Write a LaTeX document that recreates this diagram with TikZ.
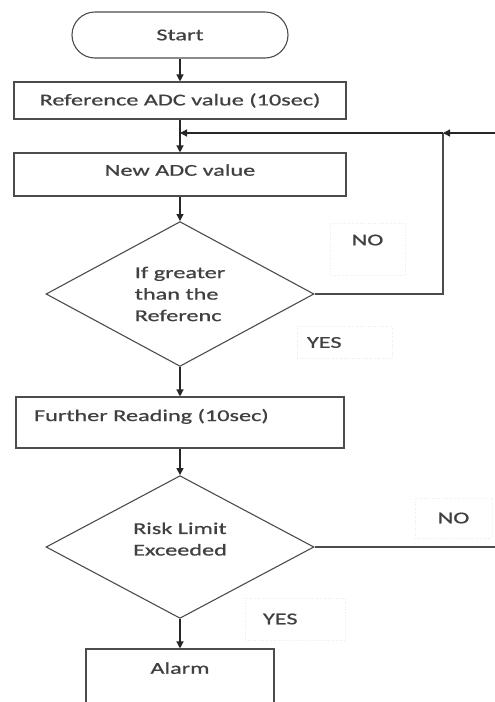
\documentclass[tikz,border=0pt]{standalone}
\usepackage{fontspec}
\setmainfont[FakeStretch=1.47, FakeBold=0.8]{Carlito}
\usetikzlibrary{shapes.geometric,arrows.meta}

\begin{document}
\begin{tikzpicture}[x=1pt, y=-1pt,
    every node/.style={font=\fontsize{16.5}{21.5}\selectfont, text=black!75},
    box/.style={draw=black!70, line width=1.1pt, inner sep=0pt},
    startbox/.style={box, rounded corners=23pt, minimum width=216pt, minimum height=46pt},
    decision/.style={draw=black!70, line width=1.1pt, diamond, inner sep=0pt, align=left,
        minimum width=268pt, minimum height=142pt},
    tag/.style={draw=black!8, dotted, line width=0.6pt, inner sep=0pt},
    flow/.style={draw=black!85, line width=1.3pt, -{Triangle[length=7pt, width=7pt]}},
    line/.style={draw=black!70, line width=1.1pt}]
            \useasboundingbox (0, 0) rectangle (495, 702);
            \clip (0, 0) rectangle (495, 702);

            \node[startbox] (start) at (180, 35) {Start};
            \node[box, minimum width=332pt, minimum height=37pt] (ref) at (180, 100.5) {Reference ADC value (10sec)};
            \node[box, minimum width=332pt, minimum height=43pt, text depth=9pt] (new) at (180, 174.5) {New ADC value};
            \node[decision] (cmp) at (180, 294) {If greater\\than the\\Referenc};
            \node[box, minimum height=51pt, text width=292pt, inner xsep=18pt, align=left, text depth=15pt] (further) at (180, 422.5) {Further Reading (10sec)};
            \node[decision, text depth=16pt] (risk) at (180, 547) {Risk Limit\\Exceeded};
            \node[box, minimum width=188pt, minimum height=70pt, text depth=32pt] (alarm) at (180, 684) {Alarm};

            \node[tag, minimum width=75pt, minimum height=52pt, text depth=18pt] (no1) at (367.5, 249) {NO};
            \node[tag, text width=75pt, inner xsep=10pt, align=left, minimum height=32pt] (yes1) at (344.5, 342.5) {YES};
            \node[tag, minimum width=77pt, minimum height=40pt] (no2) at (453.5, 518) {NO};
            \node[tag, text width=64pt, inner xsep=18pt, align=left, minimum height=42pt] (yes2) at (295, 619) {YES};

            \coordinate (loop) at (443, 133);
            \coordinate (inlet) at (495, 133);
            \coordinate (merge) at (180, 133);
            \coordinate (exit) at (495, 547);

            \draw[flow] (start) -- (ref);
            \draw[flow] (ref) -- (new);
            \draw[flow] (new) -- (cmp);
            \draw[flow] (cmp) -- (further);
            \draw[flow] (further) -- (risk);
            \draw[flow] (risk) -- (alarm);

            \draw[flow] (inlet) -- (loop);
            \draw[line] (cmp.east) -| (loop);
            \draw[flow] (loop) -- (merge);
            \draw[line] (risk.east) -- (exit);
\end{tikzpicture}
\end{document}
